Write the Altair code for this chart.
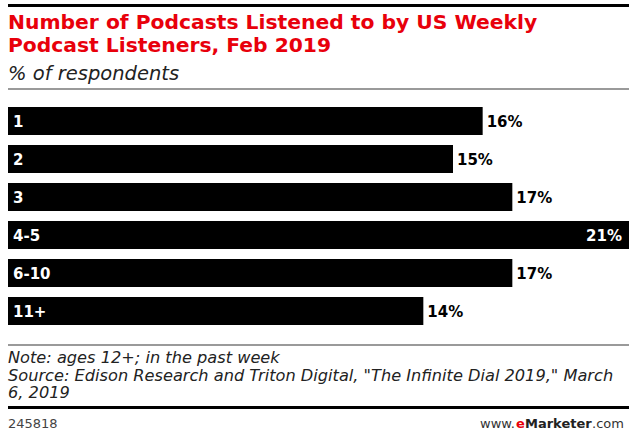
import altair as alt
import pandas as pd

categories = ["1", "2", "3", "4-5", "6-10", "11+"]
values = [16, 15, 17, 21, 17, 14]
value_labels = ["16%", "15%", "17%", "21%", "17%", "14%"]

title_lines = ["Number of Podcasts Listened to by US Weekly", "Podcast Listeners, Feb 2019"]
subtitle = "% of respondents"
note_lines = [
    "Note: ages 12+; in the past week",
    'Source: Edison Research and Triton Digital, "The Infinite Dial 2019," March',
    "6, 2019",
]
chart_id = "245818"

df = pd.DataFrame({"cat": categories, "value": values, "label": value_labels})

W, H = 629, 439
xs = alt.Scale(domain=[0, 21], range=[8, 631])
ys = alt.Scale(domain=categories, range=[107, 325], paddingInner=0.263, paddingOuter=0)

base = alt.Chart(df)

bars = base.mark_bar(color="#000000", size=28).encode(
    x=alt.X("value:Q", scale=xs, axis=None),
    y=alt.Y("cat:N", scale=ys, axis=None, sort=categories),
)

cat_text = base.mark_text(
    align="left", baseline="middle", color="white", font="DejaVu Sans",
    fontWeight="bold", fontSize=15, dy=1
).encode(
    x=alt.value(13),
    y=alt.Y("cat:N", scale=ys, axis=None, sort=categories),
    text="cat:N",
)

outside = base.transform_joinaggregate(mx="max(value)").transform_filter(
    "datum.value < datum.mx"
).mark_text(
    align="left", baseline="middle", color="#000000", font="DejaVu Sans",
    fontWeight="bold", fontSize=15, dx=4, dy=1
).encode(
    x=alt.X("value:Q", scale=xs, axis=None),
    y=alt.Y("cat:N", scale=ys, axis=None, sort=categories),
    text="label:N",
)

inside = base.transform_joinaggregate(mx="max(value)").transform_filter(
    "datum.value >= datum.mx"
).mark_text(
    align="right", baseline="middle", color="#ffffff", font="DejaVu Sans",
    fontWeight="bold", fontSize=15, dy=1
).encode(
    x=alt.value(622),
    y=alt.Y("cat:N", scale=ys, axis=None, sort=categories),
    text="label:N",
)

one = pd.DataFrame({"a": [0]})


def txt(s, x, y, size, color="#000000", weight="normal", style="normal",
        font="DejaVu Sans", align="left"):
    return alt.Chart(one).mark_text(
        text=s, align=align, baseline="alphabetic", fontSize=size, color=color,
        fontWeight=weight, fontStyle=style, font=font
    ).encode(x=alt.value(x), y=alt.value(y))


def hline(y, width, color):
    return alt.Chart(one).mark_rule(color=color, strokeWidth=width).encode(
        x=alt.value(8), x2=alt.value(W), y=alt.value(y)
    )


layers = [
    hline(5.5, 3, "#000000"),
    txt(title_lines[0], 8, 29, 20.3, color="#e8000b", weight="bold"),
    txt(title_lines[1], 8, 52, 20.3, color="#e8000b", weight="bold"),
    txt(subtitle, 8, 80, 19.5, color="#222222", style="italic"),
    hline(89, 2, "#9a9a9a"),
    bars, cat_text, outside, inside,
    hline(345, 2, "#9a9a9a"),
    txt(note_lines[0], 8, 363, 16.2, color="#222222", style="italic"),
    txt(note_lines[1], 8, 380.5, 16.2, color="#222222", style="italic"),
    txt(note_lines[2], 8, 398, 16.2, color="#222222", style="italic"),
    hline(407.5, 3, "#000000"),
    txt(chart_id, 8, 428, 13, color="#444444"),
    txt("www.", 480, 428, 13, color="#333333"),
    txt("e", 516, 428, 13, color="#e8000b", weight="bold"),
    txt("Marketer", 525, 428, 13, color="#222222", weight="bold"),
    txt(".com", 592, 428, 13, color="#333333"),
]

chart = alt.layer(*layers).properties(
    width=W, height=H, padding=0, autosize=alt.AutoSizeParams(type="none")
).configure_view(stroke=None)

chart.save("out.html", embed_options={"renderer": "svg", "actions": False})
